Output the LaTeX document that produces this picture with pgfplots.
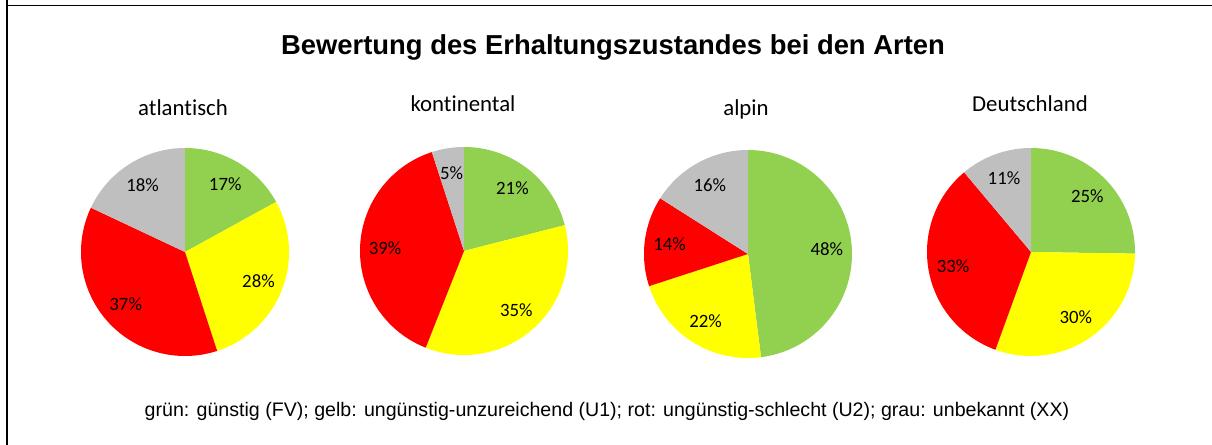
\documentclass[border=0pt]{standalone}
\usepackage{fontspec}
\setmainfont{Liberation Sans}
\newfontfamily\calibri[Ligatures={NoCommon}]{Carlito}
\usepackage{pgfplots}
\pgfplotsset{compat=1.18}
\definecolor{cgreen}{HTML}{92D050}
\definecolor{cyellow}{HTML}{FFFF00}
\definecolor{cred}{HTML}{FF0000}
\definecolor{cgray}{HTML}{BFBFBF}

\newcommand\pietotal{100}
\newcommand\piecum{0}
\newcommand\pieinit[1]{\xdef\pietotal{#1}\xdef\piecum{0}}
% one slice: #1 = value in percent, #2 = colour
\newcommand\slice[2]{%
  \pgfmathsetmacro\sA{90-(\piecum/\pietotal)*360}%
  \pgfmathsetmacro\newcum{\piecum+#1}%
  \xdef\piecum{\newcum}%
  \pgfmathsetmacro\sB{90-(\piecum/\pietotal)*360}%
  \pgfmathsetmacro\sM{(\sA+\sB)/2}%
  \pgfmathsetmacro\lx{0.76*cos(\sM)}%
  \pgfmathsetmacro\ly{0.76*sin(\sM)}%
  \edef\doit{%
    \noexpand\addplot[fill=#2, draw=none, domain=\sB:\sA, samples=120] ({cos(x)},{sin(x)}) -- (axis cs:0,0) -- cycle;
    \noexpand\node[font=\noexpand\calibri\noexpand\fontsize{9.4}{11}\noexpand\selectfont] at (axis cs:\lx,\ly) {#1\noexpand\%};%
  }%
  \doit
}
\pgfplotsset{pie/.style={hide axis, x=52pt, y=52pt, xmin=-1, xmax=1, ymin=-1, ymax=1, clip=false, anchor=center}}

\begin{document}
\begin{tikzpicture}
\useasboundingbox (0,0) rectangle (606pt,222.5pt);
\draw[line width=0.8pt] (3.5pt,222.5pt) -- (3.5pt,0pt);
\draw[line width=0.8pt] (3.1pt,219.8pt) -- (605.8pt,219.8pt);

\node[font=\bfseries\fontsize{13.7}{16}\selectfont] at (306.5pt,199pt) {Bewertung des Erhaltungszustandes bei den Arten};

\node[font=\calibri\fontsize{11.4}{13}\selectfont, anchor=base] at (91.5pt,164.5pt) {atlantisch};
\node[font=\calibri\fontsize{11.4}{13}\selectfont, anchor=base] at (231.5pt,166.5pt) {kontinental};
\node[font=\calibri\fontsize{11.4}{13}\selectfont, anchor=base] at (373pt,164.5pt) {alpin};
\node[font=\calibri\fontsize{11.4}{13}\selectfont, anchor=base] at (515pt,166.5pt) {Deutschland};

% atlantisch
\begin{axis}[pie, at={(92.5pt,96.5pt)}]
\pieinit{100}
\slice{17}{cgreen}
\slice{28}{cyellow}
\slice{37}{cred}
\slice{18}{cgray}
\end{axis}

% kontinental
\begin{axis}[pie, at={(232pt,97pt)}]
\pieinit{100}
\slice{21}{cgreen}
\slice{35}{cyellow}
\slice{39}{cred}
\slice{5}{cgray}
\end{axis}

% alpin
\begin{axis}[pie, at={(374pt,95.5pt)}]
\pieinit{100}
\slice{48}{cgreen}
\slice{22}{cyellow}
\slice{14}{cred}
\slice{16}{cgray}
\end{axis}

% Deutschland
\begin{axis}[pie, at={(515.5pt,96.5pt)}]
\pieinit{99}
\slice{25}{cgreen}
\slice{30}{cyellow}
\slice{33}{cred}
\slice{11}{cgray}
\end{axis}

\node[font=\fontsize{9.8}{12}\selectfont] at (303.5pt,17pt) {grün: günstig (FV); gelb: ungünstig-unzureichend (U1); rot: ungünstig-schlecht (U2); grau: unbekannt (XX)};
\end{tikzpicture}
\end{document}
